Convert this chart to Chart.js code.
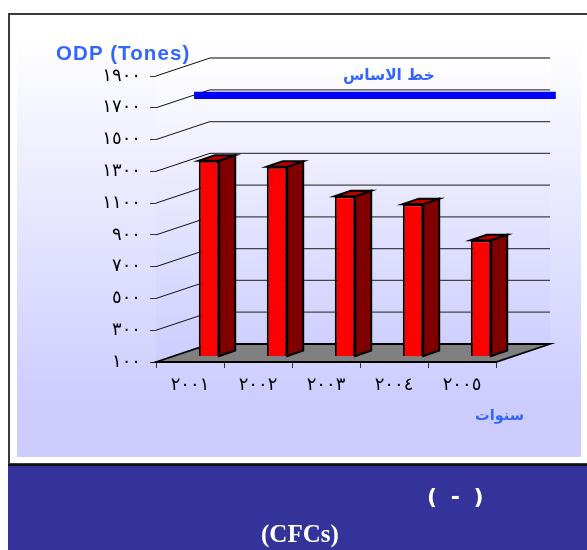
<!DOCTYPE html>
<html lang="ar">
<head>
<meta charset="utf-8">
<style>
  html,body{margin:0;padding:0;background:#fff;overflow:hidden}
  #stage{position:relative;width:587px;height:550px;overflow:hidden}
  #frame{position:absolute;left:8px;top:13px;width:590px;height:452px;box-sizing:border-box;border:2px solid #3a3a3a;background:#fff}
  #bg{position:absolute;left:17px;top:38px;width:564px;height:419px;background:linear-gradient(#fff 0%,#ccf 88%,#ccf 100%)}
  #panel{position:absolute;left:8px;top:464px;width:579px;height:86px;background:#339;border-top:2px solid #111;box-sizing:border-box}
  canvas{position:absolute;left:0;top:0}
  .t{position:absolute;white-space:nowrap;line-height:1}
</style>
<script src="https://cdn.jsdelivr.net/npm/chart.js@4"></script>
</head>
<body>
<div id="stage">
  <div id="frame"></div>
  <div id="bg"></div>
  <div id="panel"></div>
  <canvas id="c" width="587" height="550"></canvas>
  <div class="t" style="left:56px;top:41px;font:bold 20.5px 'Liberation Sans';color:#36f;letter-spacing:1.1px">ODP (Tones)</div>
  <div class="t" dir="rtl" style="left:343px;top:66px;font:bold 15.4px 'DejaVu Sans';color:#36f">خط الاساس</div>
  <div class="t" dir="rtl" style="left:475px;top:406px;font:bold 14.6px 'DejaVu Sans';color:#36f">سنوات</div>
  <div class="t" style="left:427px;top:484px;font:bold 22px 'DejaVu Sans';color:#fff;word-spacing:6px">( - )</div>
  <div class="t" style="left:261px;top:520px;font:bold 25px 'Liberation Serif';color:#fff">(CFCs)</div>
</div>
<script>
const categories = ['٢٠٠١','٢٠٠٢','٢٠٠٣','٢٠٠٤','٢٠٠٥'];
const odpValues = [1332, 1294, 1109, 1059, 832];
const baselineYears = [2000.78, 2006.1];
const baselineValue = [1744, 1744];
const yTickLabels = {100:'١٠٠',300:'٣٠٠',500:'٥٠٠',700:'٧٠٠',900:'٩٠٠',1100:'١١٠٠',1300:'١٣٠٠',1500:'١٥٠٠',1700:'١٧٠٠',1900:'١٩٠٠'};

// 3D look of the original chart
const WALL = {dx: 54, dy: -18};
const SERIES = {dx: 19, dy: -5.5};
const BAR = {dx: 16, dy: -5.5};

const threeD = {
  id: 'threeD',
  beforeDatasetsDraw(chart) {
    const {ctx, chartArea: a, scales: {y}} = chart;
    const bx = a.left + WALL.dx, rx = a.right + WALL.dx;
    ctx.save();
    // walls
    const g = ctx.createLinearGradient(0, a.top + WALL.dy, 0, a.bottom);
    g.addColorStop(0, '#ffffff');
    g.addColorStop(1, '#ccccff');
    ctx.fillStyle = g;
    ctx.beginPath();
    ctx.moveTo(a.left, a.top); ctx.lineTo(bx, a.top + WALL.dy); ctx.lineTo(rx, a.top + WALL.dy);
    ctx.lineTo(rx, a.bottom + WALL.dy); ctx.lineTo(bx, a.bottom + WALL.dy); ctx.lineTo(a.left, a.bottom);
    ctx.closePath(); ctx.fill();
    // grid
    y.ticks.forEach((t, i) => {
      const py = y.getPixelForValue(t.value);
      if (t.value === y.min) return;
      ctx.beginPath();
      ctx.strokeStyle = '#111'; ctx.lineWidth = 1;
      ctx.moveTo(a.left, py); ctx.lineTo(bx, py + WALL.dy);
      ctx.stroke();
      ctx.beginPath();
      ctx.strokeStyle = t.value === y.max ? '#000' : '#444'; ctx.lineWidth = t.value === y.max ? 1 : 1.3;
      ctx.moveTo(bx, py + WALL.dy); ctx.lineTo(rx, py + WALL.dy);
      ctx.stroke();
    });
    // floor
    ctx.beginPath();
    ctx.moveTo(a.left, a.bottom); ctx.lineTo(bx, a.bottom + WALL.dy);
    ctx.lineTo(rx, a.bottom + WALL.dy); ctx.lineTo(a.right, a.bottom); ctx.closePath();
    ctx.fillStyle = '#808080'; ctx.fill();
    ctx.strokeStyle = '#000'; ctx.lineWidth = 1.8; ctx.stroke();
    ctx.restore();

    // series sit midway through the depth
    ctx.save();
    ctx.translate(SERIES.dx, SERIES.dy);
    chart.getDatasetMeta(0).data.forEach(el => {
      const l = el.x - el.width / 2, r = el.x + el.width / 2;
      ctx.lineWidth = 2; ctx.strokeStyle = '#000'; ctx.lineJoin = 'miter';
      ctx.fillStyle = '#800000';
      ctx.beginPath();
      ctx.moveTo(r, el.y); ctx.lineTo(r + BAR.dx, el.y + BAR.dy);
      ctx.lineTo(r + BAR.dx, el.base + BAR.dy); ctx.lineTo(r, el.base); ctx.closePath();
      ctx.fill(); ctx.stroke();
      ctx.fillStyle = '#c00000';
      ctx.beginPath();
      ctx.moveTo(l, el.y); ctx.lineTo(l + BAR.dx, el.y + BAR.dy);
      ctx.lineTo(r + BAR.dx, el.y + BAR.dy); ctx.lineTo(r, el.y); ctx.closePath();
      ctx.fill(); ctx.stroke();
    });
  },
  afterDatasetsDraw(chart) { chart.ctx.restore(); }
};

new Chart(document.getElementById('c'), {
  data: {
    labels: categories,
    datasets: [
      {type: 'bar', data: odpValues, base: 100, backgroundColor: '#ff0000', borderColor: '#000', borderWidth: 2,
       grouped: false, categoryPercentage: 1, barPercentage: 0.3, clip: false, order: 1},
      {type: 'line', xAxisID: 'x2', data: baselineYears.map((x, i) => ({x, y: baselineValue[i]})),
       borderColor: '#0000ff', borderWidth: 7.3, pointRadius: 0, clip: false, order: 2, borderCapStyle: 'butt'}
    ]
  },
  plugins: [threeD],
  options: {
    responsive: false, animation: false,
    layout: {padding: {left: 56, right: 91, top: 76, bottom: 148}},
    plugins: {legend: {display: false}, title: {display: false}, tooltip: {enabled: false}},
    scales: {
      x: {
        type: 'category', offset: true,
        afterFit(s) { s.height = 40; },
        grid: {drawOnChartArea: false, color: '#333', tickLength: 6, lineWidth: 1},
        border: {color: '#000', width: 1.8},
        ticks: {color: '#000', font: {family: 'DejaVu Sans', size: 18}, maxRotation: 0, padding: 7, autoSkip: false}
      },
      x2: {type: 'linear', display: false, min: 2000.5, max: 2005.5},
      y: {
        type: 'linear', min: 100, max: 1900,
        afterFit(s) { s.width = 100; },
        grid: {drawOnChartArea: false, color: '#333', tickLength: 6, lineWidth: 1},
        border: {color: '#000', width: 1},
        ticks: {stepSize: 200, color: '#000', font: {family: 'DejaVu Sans', size: 18}, padding: 9,
                callback: v => yTickLabels[v]}
      }
    }
  }
});
</script>
</body>
</html>
